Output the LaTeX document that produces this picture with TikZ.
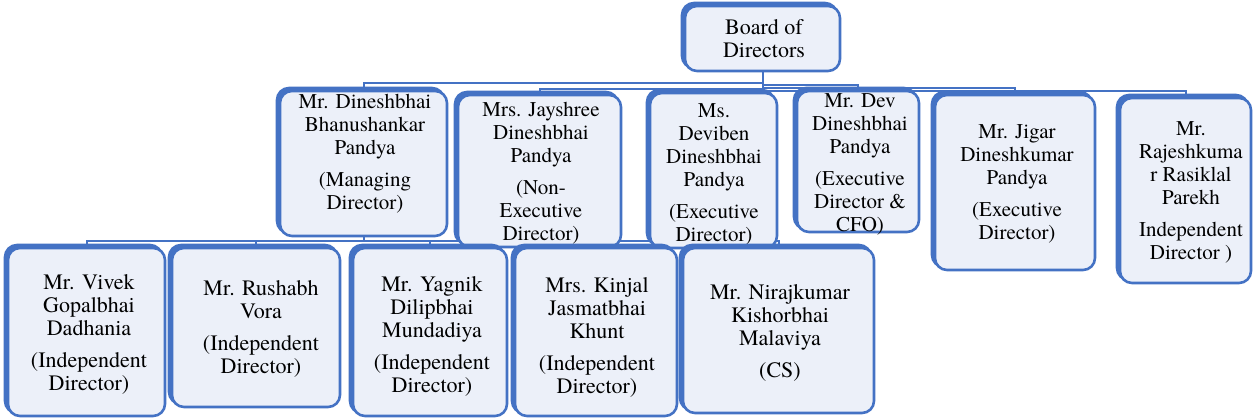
\documentclass[tikz,border=0pt]{standalone}
\usepackage{fontspec}
\newfontfamily\tms{texgyretermes-regular.otf}
\usetikzlibrary{backgrounds}
\definecolor{bl}{HTML}{4472C4}
\definecolor{bf}{RGB}{236,240,249}
\tikzset{
  conn/.style={draw=bl, line width=2pt},
  boxfront/.style={draw=bl, line width=2.6pt, fill=bf, rounded corners=12pt, inner sep=0pt, outer sep=0pt},
  boxback/.style={draw=bl, line width=2.6pt, fill=bl, rounded corners=12pt, inner sep=0pt, outer sep=0pt},
  txta/.style={align=center, inner sep=0pt, font=\tms\fontsize{21}{23}\selectfont},
  txtb/.style={align=center, inner sep=0pt, font=\tms\fontsize{22}{23}\selectfont},
}
% name, x1, y1, x2, y2, text x, text y, text style, text
\newcommand\obox[9]{%
  \node[boxback, minimum width={(#4-#2)*1pt}, minimum height={(#5-#3)*1pt}] (#1s) at ({(#2+#4)/2-3},{(#3+#5)/2-3}) {};
  \node[boxfront, minimum width={(#4-#2)*1pt}, minimum height={(#5-#3)*1pt}] (#1) at ({(#2+#4)/2},{(#3+#5)/2}) {};
  \node[#8] (#1t) at (#6,#7) {#9};
}
\begin{document}
\begin{tikzpicture}[x=1pt,y=-1pt]
\useasboundingbox (0,0) rectangle (1254,419);
\obox{board}{685}{6}{840}{71}{764}{39}{txtb}{Board of\\Directors}
% first row
\obox{dp}{280}{91}{447}{236}{365}{154}{txta}{Mr. Dineshbhai\\Bhanushankar\\Pandya\\[9pt](Managing\\Director)}
\obox{jp}{458}{95}{621}{247}{541}{173}{txta}{Mrs. Jayshree\\Dineshbhai\\Pandya\\[9pt](Non-\\Executive\\Director)}
\obox{dv}{650}{93}{777}{248}{714}{174}{txta}{Ms.\\Deviben\\Dineshbhai\\Pandya\\[9pt](Executive\\Director)}
\obox{dev}{797}{91}{919}{232}{860}{164}{txta}{Mr. Dev\\Dineshbhai\\Pandya\\[9pt](Executive\\Director \&\\CFO)}
\obox{jig}{935}{95}{1095}{270}{1017}{184}{txta}{Mr. Jigar\\Dineshkumar\\Pandya\\[9pt](Executive\\Director)}
\obox{raj}{1120}{98}{1251}{283}{1191}{192}{txta}{Mr.\\Rajeshkuma\\r Rasiklal\\Parekh\\[9pt]Independent\\Director )}
% second row
\obox{viv}{8}{248}{165}{416}{89}{334}{txtb}{Mr. Vivek\\Gopalbhai\\Dadhania\\[9pt](Independent\\Director)}
\obox{rus}{172}{248}{340}{407}{261}{329}{txtb}{Mr. Rushabh\\Vora\\[9pt](Independent\\Director)}
\obox{yag}{353}{248}{507}{416}{432}{336}{txtb}{Mr. Yagnik\\Dilipbhai\\Mundadiya\\[9pt](Independent\\Director)}
\obox{kin}{515}{248}{677}{416}{597}{337}{txtb}{Mrs. Kinjal\\Jasmatbhai\\Khunt\\[9pt](Independent\\Director)}
\obox{nir}{683}{248}{874}{413}{780}{333}{txtb}{Mr. Nirajkumar\\Kishorbhai\\Malaviya\\[9pt](CS)}
\begin{pgfonlayer}{background}
  \draw[conn] (board.south) -- ++(0,12) -| (dp.north);
  \draw[conn] (board.south) -- ++(0,18) -| (jp.north);
  \draw[conn] (board.south) -- ++(0,18) -| (dv.north);
  \draw[conn] (board.south) -- ++(0,14) -| (dev.north);
  \draw[conn] (board.south) -- ++(0,17) -| (jig.north);
  \draw[conn] (board.south) -- ++(0,20) -| (raj.north);
  \draw[conn] (dp.south) -- ++(0,5) -| (viv.north);
  \draw[conn] (dp.south) -- ++(0,5) -| (rus.north);
  \draw[conn] (dp.south) -- ++(0,5) -| (yag.north);
  \draw[conn] (dp.south) -- ++(0,5) -| (kin.north);
  \draw[conn] (dp.south) -- ++(0,5) -| (nir.north);
\end{pgfonlayer}
\end{tikzpicture}
\end{document}
